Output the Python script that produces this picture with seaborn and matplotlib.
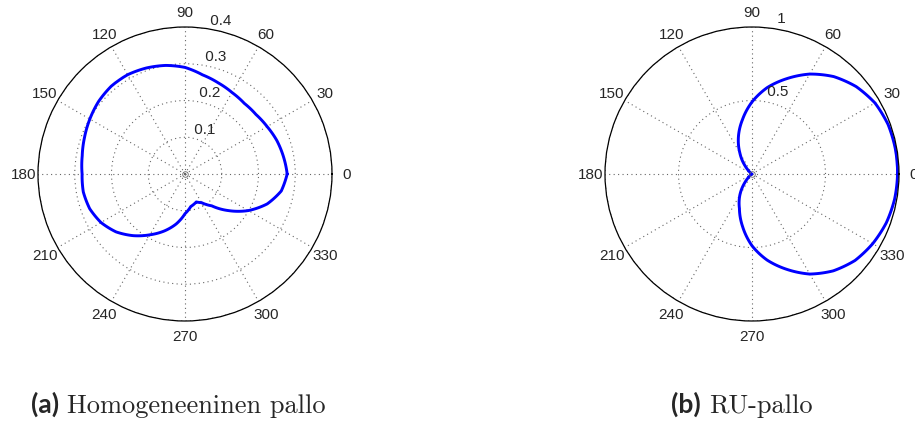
import numpy as np
import pandas as pd
import matplotlib
matplotlib.use("Agg")
import matplotlib.pyplot as plt
import seaborn as sns

# pattern (a): homogeneous sphere, angle in degrees -> radius
ang_a = [0, 10, 20, 30, 40, 50, 60, 70, 80, 90, 100, 110, 120, 130, 140, 150,
         160, 170, 180, 190, 200, 210, 220, 230, 240, 250, 260, 270, 280, 292,
         300, 310, 320, 330, 340, 350, 360]
r_a = [0.278, 0.272, 0.266, 0.258, 0.252, 0.251, 0.256, 0.264, 0.274, 0.290,
       0.300, 0.307, 0.312, 0.312, 0.307, 0.299, 0.291, 0.284, 0.280, 0.281,
       0.276, 0.264, 0.245, 0.219, 0.191, 0.165, 0.138, 0.108, 0.090, 0.082,
       0.090, 0.113, 0.155, 0.199, 0.238, 0.266, 0.278]

# pattern (b): RU sphere
ang_b = [0, 10, 20, 30, 40, 50, 60, 70, 80, 90, 100, 110, 120, 125, 130, 135,
         140, 150, 180, 210, 220, 225, 230, 235, 240, 250, 260, 270, 280, 290,
         300, 310, 320, 330, 340, 350, 360]
r_b = [0.990, 0.990, 0.985, 0.966, 0.925, 0.865, 0.785, 0.690, 0.597, 0.490,
       0.375, 0.270, 0.165, 0.120, 0.075, 0.040, 0.020, 0.006, 0.0, 0.006,
       0.020, 0.040, 0.075, 0.120, 0.165, 0.250, 0.365, 0.488, 0.595, 0.690,
       0.786, 0.860, 0.915, 0.948, 0.972, 0.985, 0.990]

theta_ticks = list(range(0, 360, 30))
rticks_a = [0.1, 0.2, 0.3, 0.4]
rlabels_a = ["0.1", "0.2", "0.3", "0.4"]
rticks_b = [0.5, 1.0]
rlabels_b = ["0.5", "1"]

sns.set_style("white")
plt.rcParams["font.family"] = ["Liberation Sans", "DejaVu Sans"]


def matlab_polar(ax, ang, r, rmax, rticks, rlabels):
    df = pd.DataFrame({"theta": np.deg2rad(ang), "r": r})
    sns.lineplot(data=df, x="theta", y="r", ax=ax, sort=False, estimator=None,
                 color=(0, 0, 1), linewidth=2.1)
    # let the polar transform bend each segment instead of drawing chords
    ax.lines[-1].get_path()._interpolation_steps = 40
    ax.set_xlabel("")
    ax.set_ylabel("")
    ax.set_ylim(0, rmax)
    ax.set_yticks(rticks)
    ax.set_yticklabels([])
    ax.set_xticks(np.deg2rad(theta_ticks))
    ax.set_xticklabels([])
    ax.tick_params(length=0, pad=0)
    ax.grid(True, color="0.4", linestyle=(0, (1, 3)), linewidth=0.8)
    ax.spines["polar"].set_color("black")
    ax.spines["polar"].set_linewidth(0.9)
    ax.plot([0], [0], marker="o", markersize=4, markerfacecolor="none",
            markeredgecolor="0.4", markeredgewidth=0.6)
    for t in theta_ticks:
        ax.text(np.deg2rad(t), 1.1 * rmax, str(t), ha="center", va="center",
                fontsize=11)
    rinc = rticks[1] - rticks[0]
    for rv, lab in zip(rticks, rlabels):
        ax.text(np.deg2rad(82), rv + rinc / 20, " " + lab, ha="left",
                va="bottom", fontsize=11)


fig = plt.figure(figsize=(9.15, 4.35), dpi=100)
ax_a = fig.add_axes([38 / 915, 113 / 435, 294 / 915, 294 / 435], projection="polar")
ax_b = fig.add_axes([605 / 915, 113 / 435, 294 / 915, 294 / 435], projection="polar")

matlab_polar(ax_a, ang_a, r_a, 0.4, rticks_a, rlabels_a)
matlab_polar(ax_b, ang_b, r_b, 1.0, rticks_b, rlabels_b)

# captions: bold sans tag followed by serif text
cap_y = (435 - 413) / 435
renderer = fig.canvas.get_renderer()
for x0, tag, words in [(31, "(a)", "Homogeneeninen pallo"), (671, "(b)", "RU-pallo")]:
    t = fig.text(x0 / 915, cap_y, tag, family="Lato", weight="bold",
                 fontsize=19, va="baseline", ha="left")
    x1 = t.get_window_extent(renderer).x1
    fig.text((x1 + 8) / 915, cap_y, words, family="cmr10", fontsize=19,
             va="baseline", ha="left")

fig.savefig("out.png", dpi=100)
